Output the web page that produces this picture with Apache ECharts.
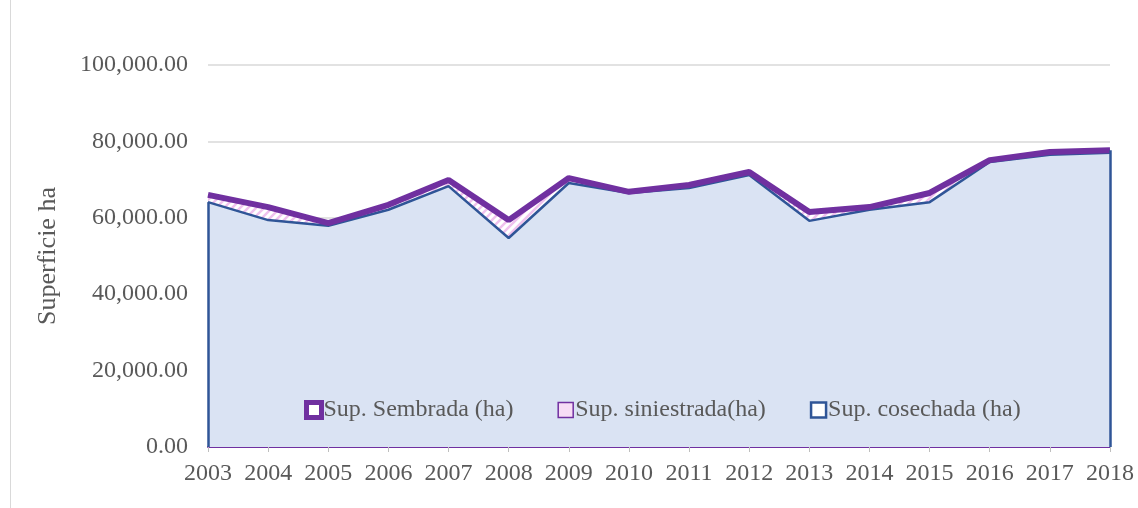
<!DOCTYPE html>
<html>
<head>
<meta charset="utf-8">
<script src="https://cdn.jsdelivr.net/npm/echarts@6/dist/echarts.min.js"></script>
<style>
  html, body { margin: 0; padding: 0; background: #fff; }
  #chart { width: 1138px; height: 508px; }
  .frame { position: absolute; left: 10px; top: 0; width: 1px; height: 508px; background: #d9d9d9; }
</style>
</head>
<body>
<div class="frame"></div>
<div id="chart"></div>
<script>
const years = ['2003', '2004', '2005', '2006', '2007', '2008', '2009', '2010',
  '2011', '2012', '2013', '2014', '2015', '2016', '2017', '2018']
const sembrada = [66000, 62800, 58600, 63400, 69900, 59400, 70400, 66800,
  68600, 72000, 61500, 62800, 66500, 75100, 77200, 77700]
const siniestrada = [66000, 62800, 58600, 63400, 69900, 59400, 70400, 66800,
  68600, 72000, 61500, 62800, 66500, 75100, 77200, 77700]
const cosechada = [64100, 59400, 57900, 62100, 68300, 54700, 69100, 66500,
  67800, 71200, 59200, 62100, 64100, 74600, 76500, 77000]
const yTicks = [0, 20000, 40000, 60000, 80000, 100000]

const serif = 'Liberation Serif'
const purple = '#7030a0'
const blue = '#2f5597'

// white with pink diagonal dashes
function hatch() {
  const c = document.createElement('canvas')
  c.width = 8; c.height = 8
  const g = c.getContext('2d')
  g.fillStyle = '#ffffff'
  g.fillRect(0, 0, 8, 8)
  g.strokeStyle = '#f0c2ee'
  g.lineWidth = 2.5
  g.beginPath()
  g.moveTo(0, 8); g.lineTo(8, 0)
  g.moveTo(-2, 2); g.lineTo(2, -2)
  g.moveTo(6, 10); g.lineTo(10, 6)
  g.stroke()
  return c
}

const chart = echarts.init(document.getElementById('chart'))
chart.setOption({
  animation: false,
  grid: { left: 208, right: 28, top: 65, bottom: 61 },
  legend: {
    left: 299, top: 393,
    itemWidth: 15, itemHeight: 15, itemGap: 44,
    textStyle: { fontFamily: serif, fontSize: 24, color: '#595959', padding: [0, 0, 0, -3] },
    data: [
      { name: 'Sup. Sembrada (ha)', icon: 'rect', itemStyle: { color: '#ffffff', borderColor: purple, borderWidth: 5 } },
      { name: 'Sup. siniestrada(ha)', icon: 'rect', itemStyle: { color: '#f7dcf5', borderColor: purple, borderWidth: 1.5 } },
      { name: 'Sup. cosechada (ha)', icon: 'rect', itemStyle: { color: '#ffffff', borderColor: blue, borderWidth: 2.5 } }
    ]
  },
  xAxis: {
    type: 'category',
    data: years,
    boundaryGap: false,
    axisLine: { lineStyle: { color: purple, width: 2 } },
    axisTick: { show: true, length: 5, lineStyle: { color: '#bfbfbf' } },
    axisLabel: { fontFamily: serif, fontSize: 24, color: '#595959', margin: 15, interval: 0, hideOverlap: false }
  },
  yAxis: {
    type: 'value',
    min: yTicks[0],
    max: yTicks[yTicks.length - 1],
    interval: 20000,
    name: 'Superficie ha',
    nameLocation: 'middle',
    nameGap: 147,
    nameTextStyle: { fontFamily: serif, fontSize: 26, color: '#595959' },
    axisLine: { show: false },
    axisTick: { show: false },
    splitLine: { lineStyle: { color: '#d9d9d9', width: 1.5 } },
    axisLabel: {
      fontFamily: serif, fontSize: 24, color: '#595959', margin: 20,
      formatter: v => v.toLocaleString('en-US', { minimumFractionDigits: 2, maximumFractionDigits: 2 })
    }
  },
  series: [
    {
      name: 'Sup. siniestrada(ha)',
      type: 'line',
      data: siniestrada,
      symbol: 'none',
      z: 1,
      lineStyle: { color: purple, width: 1 },
      itemStyle: { color: '#f7dcf5' },
      areaStyle: { color: { image: hatch(), repeat: 'repeat' }, opacity: 1 }
    },
    {
      name: 'Sup. cosechada (ha)',
      type: 'line',
      data: cosechada,
      symbol: 'none',
      z: 2,
      lineStyle: { color: blue, width: 2.5 },
      itemStyle: { color: blue },
      areaStyle: { color: '#dae3f3', opacity: 1 },
      markLine: {
        silent: true,
        symbol: 'none',
        label: { show: false },
        lineStyle: { color: blue, width: 2.5, type: 'solid' },
        data: [
          [{ coord: [years[0], 0] }, { coord: [years[0], cosechada[0]] }],
          [{ coord: [years[years.length - 1], 0] }, { coord: [years[years.length - 1], sembrada[sembrada.length - 1]] }]
        ]
      }
    },
    {
      name: 'Sup. Sembrada (ha)',
      type: 'line',
      data: sembrada,
      symbol: 'none',
      z: 3,
      lineStyle: { color: purple, width: 6 },
      itemStyle: { color: purple }
    }
  ]
})
</script>
</body>
</html>
